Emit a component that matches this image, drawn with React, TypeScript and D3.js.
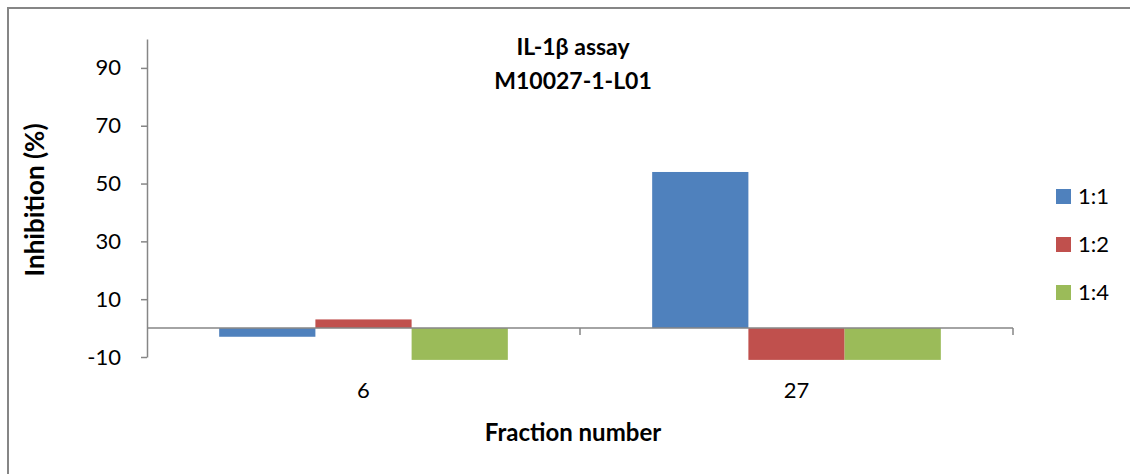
import { useEffect, useRef } from 'react';
import * as d3 from 'd3';

const categories = ['6', '27'];
const seriesNames = ['1:1', '1:2', '1:4'];
const seriesColors = ['#4F81BD', '#C0504D', '#9BBB59'];
const values1to1 = [-3, 54];
const values1to2 = [3, -11];
const values1to4 = [-11, -11];
const yTicks = [-10, 10, 30, 50, 70, 90];
const titleLines = ['IL-1β assay', 'M10027-1-L01'];

const W = 1130;
const H = 474;
const FONT = "Lato, 'Liberation Sans', Arial, sans-serif";
const AXIS = '#868686';

export default function App() {
  const svgRef = useRef<SVGSVGElement>(null);

  useEffect(() => {
    if (!svgRef.current) return;
    const svg = d3.select(svgRef.current);
    svg.selectAll('*').remove();

    const plot = { left: 147, right: 1013, top: 39, bottom: 357 };
    const series = [values1to1, values1to2, values1to4];

    const y = d3.scaleLinear().domain([-10, 100]).range([plot.bottom, plot.top]);
    const x = d3.scaleBand<string>().domain(categories).range([plot.left, plot.right]);
    const xInner = d3.scaleBand<string>()
      .domain(seriesNames)
      .range([0, x.bandwidth()])
      .paddingInner(0)
      .paddingOuter(0.75);

    // outer chart border (runs off the right/bottom edge)
    svg.append('rect')
      .attr('x', 8).attr('y', 8)
      .attr('width', W + 10).attr('height', H + 10)
      .attr('fill', 'none')
      .attr('stroke', AXIS)
      .attr('stroke-width', 2);

    // bars
    seriesNames.forEach((name, si) => {
      svg.append('g')
        .selectAll('rect')
        .data(categories)
        .join('rect')
        .attr('x', (c) => (x(c) ?? 0) + (xInner(name) ?? 0))
        .attr('width', xInner.bandwidth())
        .attr('y', (_, i) => y(Math.max(0, series[si][i])))
        .attr('height', (_, i) => Math.abs(y(series[si][i]) - y(0)))
        .attr('fill', seriesColors[si]);
    });

    // y axis
    const yAxis = svg.append('g')
      .attr('transform', `translate(${plot.left},0)`)
      .call(
        d3.axisLeft(y)
          .tickValues(yTicks)
          .tickSizeInner(6)
          .tickSizeOuter(0)
          .tickPadding(20)
          .tickFormat((d) => String(d))
      );
    yAxis.select('.domain').attr('stroke', AXIS).attr('stroke-width', 1.5);
    yAxis.selectAll('.tick line').attr('stroke', AXIS).attr('stroke-width', 1.5);
    yAxis.selectAll('.tick text')
      .attr('font-family', FONT)
      .attr('font-size', 22)
      .attr('fill', '#000');

    // x axis at zero
    const x0 = y(0);
    svg.append('line')
      .attr('x1', plot.left).attr('x2', plot.right)
      .attr('y1', x0).attr('y2', x0)
      .attr('stroke', AXIS).attr('stroke-width', 1.5);
    const boundaries = categories.map((c) => (x(c) ?? 0) + x.bandwidth());
    svg.append('g')
      .selectAll('line')
      .data(boundaries)
      .join('line')
      .attr('x1', (d) => d).attr('x2', (d) => d)
      .attr('y1', x0).attr('y2', x0 + 7)
      .attr('stroke', AXIS).attr('stroke-width', 1.5);

    svg.append('g')
      .selectAll('text')
      .data(categories)
      .join('text')
      .attr('x', (c) => (x(c) ?? 0) + x.bandwidth() / 2)
      .attr('y', 398)
      .attr('text-anchor', 'middle')
      .attr('font-family', FONT)
      .attr('font-size', 22)
      .text((c) => c);

    // axis titles
    svg.append('text')
      .attr('x', 573).attr('y', 441)
      .attr('text-anchor', 'middle')
      .attr('font-family', FONT)
      .attr('font-size', 24)
      .attr('font-weight', 'bold')
      .text('Fraction number');

    svg.append('text')
      .attr('transform', 'translate(44,200) rotate(-90)')
      .attr('text-anchor', 'middle')
      .attr('font-family', FONT)
      .attr('font-size', 26)
      .attr('font-weight', 'bold')
      .text('Inhibition (%)');

    // chart title
    titleLines.forEach((line, i) => {
      svg.append('text')
        .attr('x', 573).attr('y', 55 + i * 34)
        .attr('text-anchor', 'middle')
        .attr('font-family', FONT)
        .attr('font-size', 23)
        .attr('font-weight', 'bold')
        .text(line);
    });

    // legend
    const legend = svg.append('g').attr('transform', 'translate(1056,189)');
    seriesNames.forEach((name, i) => {
      const row = legend.append('g').attr('transform', `translate(0,${i * 48})`);
      row.append('rect')
        .attr('width', 15).attr('height', 15)
        .attr('fill', seriesColors[i]);
      row.append('text')
        .attr('x', 22).attr('y', 15)
        .attr('font-family', FONT)
        .attr('font-size', 22)
        .text(name);
    });
  }, []);

  return (
    <svg
      ref={svgRef}
      width={W}
      height={H}
      style={{ position: 'absolute', left: 0, top: 0, background: '#fff' }}
    />
  );
}
